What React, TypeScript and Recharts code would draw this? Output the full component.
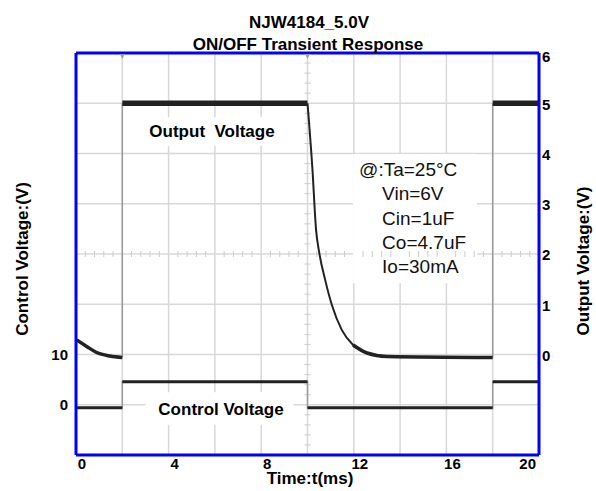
import {
  ComposedChart,
  Line,
  XAxis,
  YAxis,
  CartesianGrid,
  ReferenceLine,
  ReferenceArea,
  ReferenceDot,
} from "recharts";

const FONT = '"Liberation Sans", Arial, Helvetica, sans-serif';
const BLUE = "#0000ff";
const TRACE = "#222222";
const EDGE = "#9a9a9a";

// axes: time in ms, output on the right (1 V/div), control on the left (10 V/div)
const timeTicks = [0, 4, 8, 12, 16, 20];
const outputTicks = [0, 1, 2, 3, 4, 5, 6];
const controlTicks = [0, 10];
const gridTimes = [2, 4, 6, 8, 10, 12, 14, 16, 18];
const gridVolts = [-1, 0, 1, 2, 3, 4, 5];

// output voltage before the first turn-on
const startTime = [0.03, 0.46, 0.89, 1.47, 2.0];
const startVolt = [0.29, 0.16, 0.04, -0.03, -0.06];

// switching instants and levels
const onEdges = [2.0, 18.0];
const offEdge = 10.0;
const onLevel = 5.0;
const offLevel = -0.06;

// output discharge after turn-off
const decayTime = [10.0, 10.21, 10.37, 10.51, 10.76, 11.05, 11.48, 11.97, 12.57, 13.43];
const decayVolt = [5.0, 3.71, 2.48, 2.02, 1.49, 0.99, 0.49, 0.19, 0.03, -0.04];

// control input levels
const ctrlLow = -0.6;
const ctrlHigh = 4.6;

const conditions = ["@:Ta=25°C", "Vin=6V", "Cin=1uF", "Co=4.7uF", "Io=30mA"];

type Pt = { t: number; v: number | null };
const pts = (ts: number[], vs: number[]): Pt[] => ts.map((t, i) => ({ t, v: vs[i] }));

const startPts = pts(startTime, startVolt);
const decayPts = pts(decayTime, decayVolt);

// thin grey switching edges of the output
const outEdges: Pt[] = [
  { t: onEdges[0], v: startVolt[startVolt.length - 1] },
  { t: onEdges[0], v: onLevel },
  { t: onEdges[0], v: null },
  { t: onEdges[1], v: offLevel },
  { t: onEdges[1], v: onLevel },
];
const outHigh: Pt[] = [
  { t: onEdges[0], v: onLevel },
  { t: offEdge, v: onLevel },
  { t: offEdge, v: null },
  { t: onEdges[1], v: onLevel },
  { t: 20, v: onLevel },
];
const outLow: Pt[] = [...decayPts.slice(7), { t: onEdges[1], v: offLevel }];

const ctrlFull: Pt[] = [
  { t: startTime[0], v: ctrlLow },
  { t: onEdges[0], v: ctrlLow },
  { t: onEdges[0], v: ctrlHigh },
  { t: offEdge, v: ctrlHigh },
  { t: offEdge, v: ctrlLow },
  { t: onEdges[1], v: ctrlLow },
  { t: onEdges[1], v: ctrlHigh },
  { t: 20, v: ctrlHigh },
];
const ctrlLevels: Pt[] = [
  { t: startTime[0], v: ctrlLow },
  { t: onEdges[0], v: ctrlLow },
  { t: onEdges[0], v: null },
  { t: onEdges[0], v: ctrlHigh },
  { t: offEdge, v: ctrlHigh },
  { t: offEdge, v: null },
  { t: offEdge, v: ctrlLow },
  { t: onEdges[1], v: ctrlLow },
  { t: onEdges[1], v: null },
  { t: onEdges[1], v: ctrlHigh },
  { t: 20, v: ctrlHigh },
];

// scope graticule minor marks on the centre lines
const minorT: number[] = [];
for (let k = 1; k < 50; k++) if (k % 5 !== 0) minorT.push(k * 0.4);
const minorV: number[] = [];
for (let k = 1; k < 40; k++) if (k % 5 !== 0) minorV.push(-2 + k * 0.2);

const tickStyle = { fill: "#000", fontSize: 15, fontWeight: "bold", fontFamily: FONT };

function TimeTick({ x, y, payload }: any) {
  const last = payload.value === timeTicks[timeTicks.length - 1];
  return (
    <text
      x={last ? x - 3 : x + 6}
      y={y}
      dy="0.71em"
      textAnchor={last ? "end" : "middle"}
      {...tickStyle}
    >
      {payload.value}
    </text>
  );
}

// the top label sits just under the frame
function OutputTick({ x, y, payload }: any) {
  const top = payload.value === outputTicks[outputTicks.length - 1];
  return (
    <text x={x} y={y + (top ? 4 : 1)} dy="0.355em" textAnchor="start" {...tickStyle}>
      {payload.value}
    </text>
  );
}

const Marker = ({ cx, cy }: any) => (
  <path d={`M${cx - 2.5},${cy + 1} L${cx + 2.5},${cy + 1} L${cx},${cy + 6} Z`} fill="#a0a0a0" />
);

function Conditions({ viewBox }: any) {
  const { x, y } = viewBox;
  return (
    <text fontFamily={FONT} fontSize={19} fill="#111">
      {conditions.map((c, i) => (
        <tspan key={c} x={x + (i === 0 ? 6 : 29)} y={y + 22 + i * 24.3}>
          {c}
        </tspan>
      ))}
    </text>
  );
}

export default function App() {
  const W = 596;
  const H = 491;
  return (
    <div style={{ position: "absolute", left: 0, top: 0, width: W, height: H, background: "#fff" }}>
      <ComposedChart width={W} height={H} margin={{ top: 53, right: 17, bottom: 16, left: 16 }}>
        <CartesianGrid
          yAxisId="right"
          stroke="#d8d8d8"
          strokeWidth={1.5}
          verticalValues={gridTimes}
          horizontalValues={gridVolts}
        />
        <XAxis
          dataKey="t"
          type="number"
          domain={[0, 20]}
          ticks={timeTicks}
          tick={<TimeTick />}
          tickLine={false}
          tickSize={3}
          tickMargin={0}
          height={20}
          axisLine={{ stroke: BLUE, strokeWidth: 3 }}
          allowDataOverflow
        />
        <YAxis
          yAxisId="left"
          type="number"
          domain={[-10, 70]}
          ticks={controlTicks}
          tick={tickStyle}
          tickLine={false}
          tickSize={0}
          tickMargin={8}
          width={60}
          axisLine={{ stroke: BLUE, strokeWidth: 3 }}
        />
        <YAxis
          yAxisId="right"
          orientation="right"
          type="number"
          domain={[-2, 6]}
          ticks={outputTicks}
          tick={<OutputTick />}
          tickLine={false}
          tickSize={0}
          tickMargin={3}
          width={40}
          axisLine={{ stroke: BLUE, strokeWidth: 3 }}
        />

        {minorT.map((t) => (
          <ReferenceLine
            key={`mt${t}`}
            yAxisId="right"
            segment={[{ x: t, y: 1.94 }, { x: t, y: 2.06 }]}
            stroke="#cccccc"
            strokeWidth={1}
          />
        ))}
        {minorV.map((v) => (
          <ReferenceLine
            key={`mv${v}`}
            yAxisId="right"
            segment={[{ x: 9.87, y: v }, { x: 10.13, y: v }]}
            stroke="#cccccc"
            strokeWidth={1}
          />
        ))}

        {/* white backing behind the in-plot captions */}
        <ReferenceArea yAxisId="right" x1={2.95} x2={8.85} y1={4.15} y2={4.72} fill="#fff" fillOpacity={1} stroke="none" />
        <ReferenceArea yAxisId="left" x1={3.0} x2={9.4} y1={-4.0} y2={2.5} fill="#fff" fillOpacity={1} stroke="none" />
        <ReferenceArea
          yAxisId="right"
          x1={11.97}
          x2={17.32}
          y1={1.42}
          y2={3.99}
          fill="#fff"
          fillOpacity={1}
          stroke="none"
          label={<Conditions />}
        />

        <ReferenceDot yAxisId="right" x={onEdges[0]} y={6} r={0} shape={<Marker />} />
        <ReferenceDot yAxisId="right" x={offEdge} y={6} r={0} shape={<Marker />} />

        {/* control input */}
        <Line yAxisId="left" data={ctrlFull} dataKey="v" stroke={EDGE} strokeWidth={1.5} dot={false} isAnimationActive={false} />
        <Line yAxisId="left" data={ctrlLevels} dataKey="v" stroke={TRACE} strokeWidth={3} dot={false} isAnimationActive={false} />

        {/* output voltage */}
        <Line yAxisId="right" data={outEdges} dataKey="v" stroke={EDGE} strokeWidth={1.5} dot={false} isAnimationActive={false} />
        <Line yAxisId="right" type="monotone" data={startPts} dataKey="v" stroke={TRACE} strokeWidth={3.5} dot={false} isAnimationActive={false} />
        <Line yAxisId="right" type="monotone" data={decayPts} dataKey="v" stroke={TRACE} strokeWidth={2} dot={false} isAnimationActive={false} />
        <Line yAxisId="right" type="monotone" data={outLow} dataKey="v" stroke={TRACE} strokeWidth={3.5} dot={false} isAnimationActive={false} />
        <Line yAxisId="right" data={outHigh} dataKey="v" stroke={TRACE} strokeWidth={5.5} dot={false} isAnimationActive={false} />

        <ReferenceLine yAxisId="right" y={6} stroke={BLUE} strokeWidth={3} />
      </ComposedChart>

      <svg
        width={W}
        height={H}
        style={{ position: "absolute", left: 0, top: 0, pointerEvents: "none" }}
        fontFamily={FONT}
        fontWeight="bold"
        fill="#000"
      >
        <text x={309} y={28} textAnchor="middle" fontSize={17}>NJW4184_5.0V</text>
        <text x={308} y={50} textAnchor="middle" fontSize={17}>ON/OFF Transient Response</text>
        <text x={212} y={137} textAnchor="middle" fontSize={17}>Output{"\u00a0\u00a0"}Voltage</text>
        <text x={221} y={415} textAnchor="middle" fontSize={17}>Control Voltage</text>
        <text x={310} y={484} textAnchor="middle" fontSize={17}>Time:t(ms)</text>
        <text transform="translate(22,259) rotate(-90)" textAnchor="middle" dominantBaseline="central" fontSize={17}>
          Control Voltage:(V)
        </text>
        <text transform="translate(583,261) rotate(-90)" textAnchor="middle" dominantBaseline="central" fontSize={17}>
          Output Voltage:(V)
        </text>
      </svg>
    </div>
  );
}
